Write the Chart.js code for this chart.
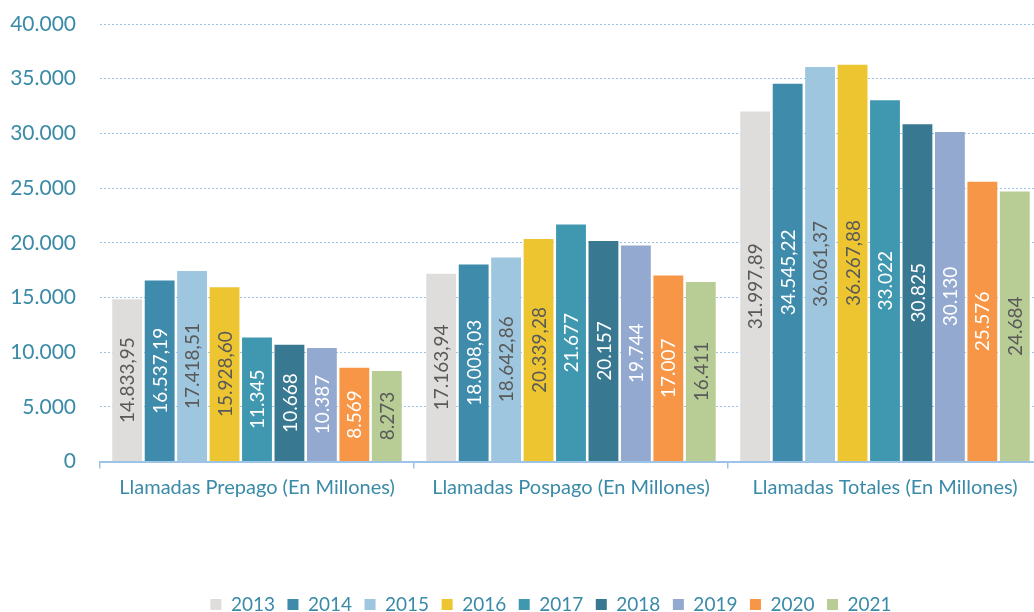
<!DOCTYPE html>
<html>
<head>
<meta charset="utf-8">
<script src="https://cdn.jsdelivr.net/npm/chart.js@4/dist/chart.umd.min.js"></script>
<style>
  html, body { margin: 0; padding: 0; background: #fff; overflow: hidden; }
  #wrap { width: 1042px; height: 612px; position: relative; }
</style>
</head>
<body>
<div id="wrap"><canvas id="chart"></canvas></div>
<script>
// categories and series
const categories = ["Llamadas Prepago (En Millones)", "Llamadas Pospago (En Millones)", "Llamadas Totales (En Millones)"];
const years = ["2013", "2014", "2015", "2016", "2017", "2018", "2019", "2020", "2021"];
const v2013 = [14833.95, 17163.94, 31997.89];
const v2014 = [16537.19, 18008.03, 34545.22];
const v2015 = [17418.51, 18642.86, 36061.37];
const v2016 = [15928.60, 20339.28, 36267.88];
const v2017 = [11345, 21677, 33022];
const v2018 = [10668, 20157, 30825];
const v2019 = [10387, 19744, 30130];
const v2020 = [8569, 17007, 25576];
const v2021 = [8273, 16411, 24684];
const decimals = [2, 2, 2, 2, 0, 0, 0, 0, 0];
const yTicks = [0, 5000, 10000, 15000, 20000, 25000, 30000, 35000, 40000];

const colors = ["#DEDDDC", "#3F8BAB", "#9EC6DE", "#ECC531", "#3F98B0", "#387890", "#94A9D0", "#F79646", "#B8CD96"];
const labelColors = ["#595959", "#ffffff", "#595959", "#595959", "#ffffff", "#ffffff", "#ffffff", "#ffffff", "#595959"];
const axisBlue = "#3A8AA8";
const gridBlue = "#9DC3E6";
const FONT = "Lato, 'Open Sans', sans-serif";

const series = [v2013, v2014, v2015, v2016, v2017, v2018, v2019, v2020, v2021];

const fmt = (v, d) => v.toLocaleString("de-DE", { minimumFractionDigits: d, maximumFractionDigits: d });

// rotated value labels inside each bar
const barLabels = {
    id: "barLabels",
    afterDatasetsDraw(chart) {
        const ctx = chart.ctx;
        ctx.save();
        ctx.font = "19px " + FONT;
        ctx.textAlign = "center";
        ctx.textBaseline = "middle";
        chart.data.datasets.forEach((ds, i) => {
            const meta = chart.getDatasetMeta(i);
            meta.data.forEach((bar, j) => {
                const cy = (bar.y + bar.base) / 2;
                ctx.save();
                ctx.translate(bar.x, cy);
                ctx.rotate(-Math.PI / 2);
                ctx.fillStyle = labelColors[i];
                ctx.fillText(fmt(ds.data[j], decimals[i]), 0, 1);
                ctx.restore();
            });
        });
        ctx.restore();
    }
};

// the legend sits a bit right of and below its default box
const legendShift = {
    id: "legendShift",
    afterLayout(chart) {
        const lg = chart.legend;
        lg.left += 30; lg.right += 30;
        lg.top += 12; lg.bottom += 12;
    }
};

new Chart(document.getElementById("chart"), {
    type: "bar",
    data: {
        labels: categories,
        datasets: years.map((y, i) => ({
            label: y,
            data: series[i],
            backgroundColor: colors[i],
            borderWidth: 0,
            categoryPercentage: 0.93,
            barPercentage: 0.92,
        })),
    },
    options: {
        responsive: true,
        maintainAspectRatio: false,
        animation: false,
        layout: { padding: { top: 24, right: 0, left: 0, bottom: 0 } },
        plugins: {
            legend: {
                position: "bottom",
                labels: {
                    font: { family: FONT, size: 19 },
                    color: axisBlue,
                    boxWidth: 11,
                    boxHeight: 11,
                    padding: 12.5,
                },
            },
            tooltip: { enabled: false },
        },
        scales: {
            x: {
                grid: {
                    offset: true,
                    drawOnChartArea: false,
                    drawTicks: true,
                    tickLength: 7,
                    color: gridBlue,
                    lineWidth: 1.5,
                },
                border: { display: true, color: gridBlue, width: 2 },
                ticks: {
                    font: { family: FONT, size: 20 },
                    color: axisBlue,
                    padding: 7,
                },
                afterFit: s => { s.height = 109; },
            },
            y: {
                min: 0,
                max: 40000,
                afterBuildTicks: s => { s.ticks = yTicks.map(v => ({ value: v })); },
                grid: {
                    color: gridBlue,
                    lineWidth: 1,
                    drawTicks: true,
                    tickLength: 24,
                    tickColor: "rgba(0,0,0,0)",
                },
                border: { display: false, dash: [2, 2] },
                ticks: {
                    font: { family: FONT, size: 21 },
                    color: axisBlue,
                    padding: 0,
                    callback: v => fmt(v, 0),
                },
                afterFit: s => { s.width = 100; },
            },
        },
    },
    plugins: [barLabels, legendShift],
});
</script>
</body>
</html>
